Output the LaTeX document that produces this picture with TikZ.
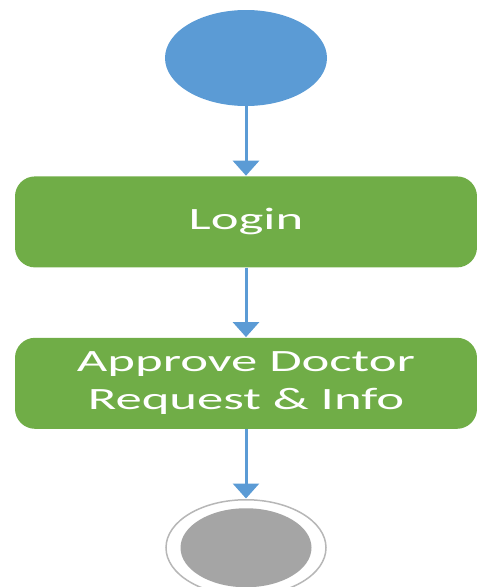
\documentclass[tikz,border=0pt]{standalone}
\usepackage{fontspec}
\usepackage{tikz}
\usetikzlibrary{positioning,shapes.geometric,arrows.meta}
\newfontfamily\boxfont[FakeStretch=1.7]{Carlito}
\definecolor{flowblue}{HTML}{5B9BD5}
\definecolor{flowgreen}{HTML}{70AD47}
\definecolor{flowgray}{HTML}{A5A5A5}

\begin{document}
\begin{tikzpicture}[
x=1pt, y=1pt,
node distance=70pt,
startnode/.style={ellipse, fill=flowblue, minimum width=162pt, minimum height=96pt, inner sep=0pt},
actionnode/.style={rectangle, rounded corners=20pt, fill=flowgreen, minimum width=462pt, minimum height=91pt, inner sep=0pt, align=center, text=white, font=\boxfont\fontsize{31}{41}\selectfont},
endnode/.style={ellipse, draw=flowgray!80, line width=1.5pt, fill=white, minimum width=160pt, minimum height=96pt, inner sep=0pt},
endcore/.style={ellipse, fill=flowgray, minimum width=131pt, minimum height=79pt, inner sep=0pt},
flowarrow/.style={-{Triangle[width=26pt,length=15pt]}, color=flowblue, line width=3pt, shorten >=0.5pt},
]
\useasboundingbox (0,0) rectangle (477,-587);

% Defining the nodes
\node[startnode] (start) at (246,-58) {};
\node[actionnode] (login) [below=of start] {\raisebox{-3pt}{Login}};
\node[actionnode] (approve) [below=of login] {\raisebox{-3pt}{Approve Doctor}\\Request \& Info};
\node[endnode] (finish) [below=of approve] {};
\node[endcore] (finish_core) at (finish.center) {};

% Relationships between the steps
\draw[flowarrow] (start) -- (login);
\draw[flowarrow] (login) -- (approve);
\draw[flowarrow] (approve) -- (finish);

\end{tikzpicture}
\end{document}
